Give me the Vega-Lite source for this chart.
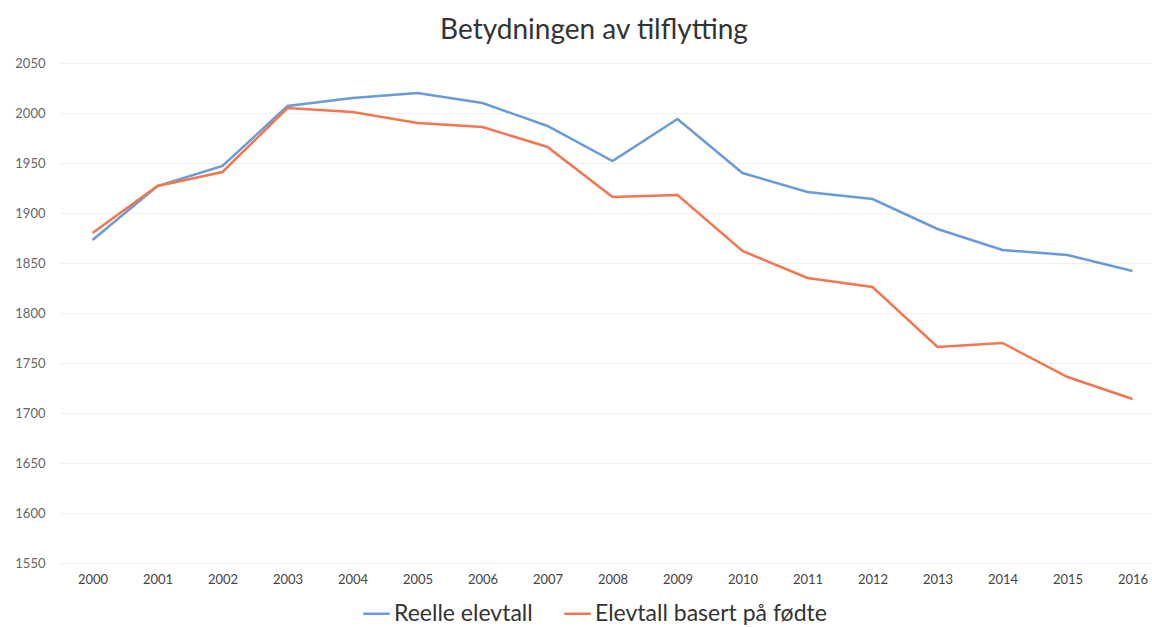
{
  "$schema": "https://vega.github.io/schema/vega-lite/v6.json",
  "autosize": {"type": "none"},
  "padding": {"left": 60, "top": 63, "right": 0, "bottom": 64},
  "width": 1092,
  "height": 500,
  "background": "white",
  "title": {"text": "Betydningen av tilflytting", "font": "Lato", "fontSize": 28, "fontWeight": "normal", "color": "#333333", "anchor": "middle", "offset": 12, "dx": -12},
  "data": {"values": [
    {"year": 2000, "serie": "Reelle elevtall", "value": 1873},
    {"year": 2001, "serie": "Reelle elevtall", "value": 1927},
    {"year": 2002, "serie": "Reelle elevtall", "value": 1947},
    {"year": 2003, "serie": "Reelle elevtall", "value": 2007},
    {"year": 2004, "serie": "Reelle elevtall", "value": 2015},
    {"year": 2005, "serie": "Reelle elevtall", "value": 2020},
    {"year": 2006, "serie": "Reelle elevtall", "value": 2010},
    {"year": 2007, "serie": "Reelle elevtall", "value": 1987},
    {"year": 2008, "serie": "Reelle elevtall", "value": 1952},
    {"year": 2009, "serie": "Reelle elevtall", "value": 1994},
    {"year": 2010, "serie": "Reelle elevtall", "value": 1940},
    {"year": 2011, "serie": "Reelle elevtall", "value": 1921},
    {"year": 2012, "serie": "Reelle elevtall", "value": 1914},
    {"year": 2013, "serie": "Reelle elevtall", "value": 1884},
    {"year": 2014, "serie": "Reelle elevtall", "value": 1863},
    {"year": 2015, "serie": "Reelle elevtall", "value": 1858},
    {"year": 2016, "serie": "Reelle elevtall", "value": 1842},
    {"year": 2000, "serie": "Elevtall basert på fødte", "value": 1880},
    {"year": 2001, "serie": "Elevtall basert på fødte", "value": 1927},
    {"year": 2002, "serie": "Elevtall basert på fødte", "value": 1941},
    {"year": 2003, "serie": "Elevtall basert på fødte", "value": 2005},
    {"year": 2004, "serie": "Elevtall basert på fødte", "value": 2001},
    {"year": 2005, "serie": "Elevtall basert på fødte", "value": 1990},
    {"year": 2006, "serie": "Elevtall basert på fødte", "value": 1986},
    {"year": 2007, "serie": "Elevtall basert på fødte", "value": 1966},
    {"year": 2008, "serie": "Elevtall basert på fødte", "value": 1916},
    {"year": 2009, "serie": "Elevtall basert på fødte", "value": 1918},
    {"year": 2010, "serie": "Elevtall basert på fødte", "value": 1862},
    {"year": 2011, "serie": "Elevtall basert på fødte", "value": 1835},
    {"year": 2012, "serie": "Elevtall basert på fødte", "value": 1826},
    {"year": 2013, "serie": "Elevtall basert på fødte", "value": 1766},
    {"year": 2014, "serie": "Elevtall basert på fødte", "value": 1770},
    {"year": 2015, "serie": "Elevtall basert på fødte", "value": 1736},
    {"year": 2016, "serie": "Elevtall basert på fødte", "value": 1714}
  ]},
  "mark": {"type": "line", "strokeWidth": 2.5, "clip": false},
  "encoding": {
    "x": {"field": "year", "type": "quantitative",
      "scale": {"domain": [1999.5, 2016.3], "nice": false, "zero": false},
      "axis": {"title": null, "values": [2000,2001,2002,2003,2004,2005,2006,2007,2008,2009,2010,2011,2012,2013,2014,2015,2016], "format": "d", "grid": false, "domain": false, "ticks": false, "labelFont": "Lato", "labelFontSize": 13, "labelColor": "#444444", "labelPadding": 10}},
    "y": {"field": "value", "type": "quantitative",
      "scale": {"domain": [1550, 2050], "nice": false, "zero": false},
      "axis": {"title": null, "values": [1550,1600,1650,1700,1750,1800,1850,1900,1950,2000,2050], "format": "d", "grid": true, "gridColor": "#EFEFEF", "gridWidth": 1, "domain": false, "ticks": false, "labelFont": "Lato", "labelFontSize": 13, "labelColor": "#666666", "labelPadding": 15}},
    "color": {"field": "serie", "type": "nominal",
      "scale": {"domain": ["Reelle elevtall", "Elevtall basert på fødte"], "range": ["#6A9BD8", "#F2764F"]},
      "legend": {"title": null, "orient": "none", "legendX": 302, "legendY": 536, "direction": "horizontal", "symbolType": "stroke", "symbolSize": 700, "symbolStrokeWidth": 2.5, "labelFont": "Lato", "labelFontSize": 23, "labelColor": "#333333", "labelLimit": 400, "columnPadding": 26, "labelOffset": 3}}
  },
  "config": {"view": {"stroke": null}}
}
